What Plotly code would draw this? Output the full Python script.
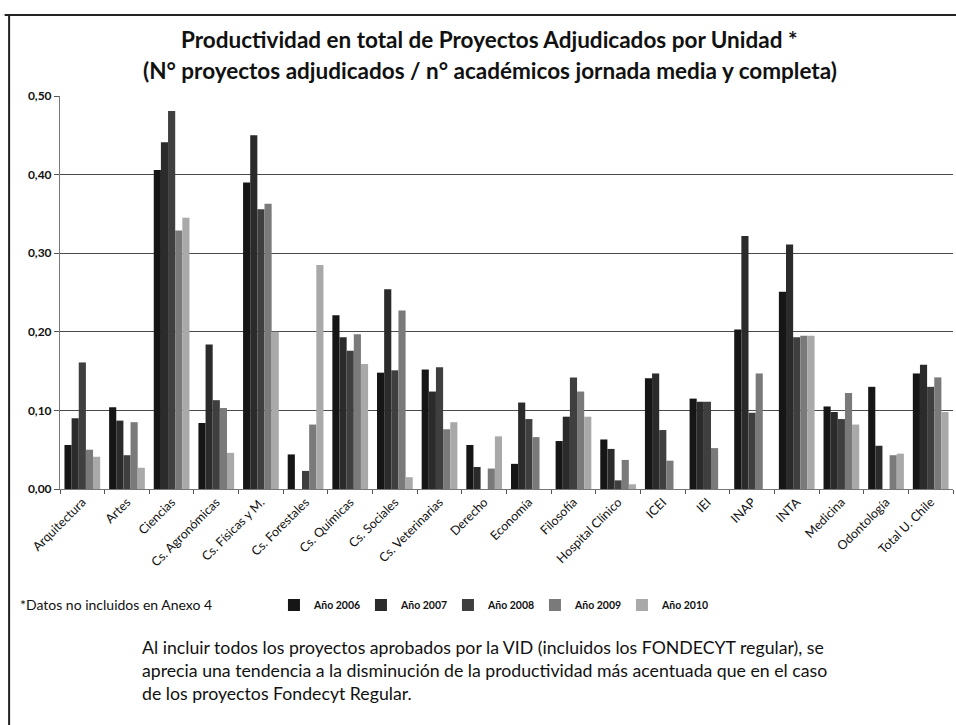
import plotly.graph_objects as go

# Units (categories) on the x axis
unidades = [
    "Arquitectura", "Artes", "Ciencias", "Cs. Agronómicas", "Cs. Físicas y M.",
    "Cs. Forestales", "Cs. Químicas", "Cs. Sociales", "Cs. Veterinarias", "Derecho",
    "Economía", "Filosofía", "Hospital Clínico", "ICEI", "IEI", "INAP", "INTA",
    "Medicina", "Odontología", "Total U. Chile",
]

# Productivity per year (None = no data)
anio_2006 = [0.056, 0.104, 0.406, 0.084, 0.390, 0.044, 0.221, 0.148, 0.152, 0.056,
             0.032, 0.061, 0.063, 0.141, 0.115, 0.203, 0.251, 0.105, 0.130, 0.147]
anio_2007 = [0.090, 0.087, 0.441, 0.184, 0.450, None, 0.193, 0.254, 0.124, 0.028,
             0.110, 0.092, 0.051, 0.147, 0.111, 0.322, 0.311, 0.098, 0.055, 0.158]
anio_2008 = [0.161, 0.043, 0.481, 0.113, 0.356, 0.023, 0.176, 0.151, 0.155, None,
             0.089, 0.142, 0.011, 0.075, 0.111, 0.097, 0.193, 0.089, None, 0.130]
anio_2009 = [0.050, 0.085, 0.329, 0.103, 0.363, 0.082, 0.197, 0.227, 0.076, 0.026,
             0.066, 0.124, 0.037, 0.036, 0.052, 0.147, 0.195, 0.122, 0.043, 0.142]
anio_2010 = [0.041, 0.027, 0.345, 0.046, 0.200, 0.285, 0.159, 0.015, 0.085, 0.067,
             None, 0.092, 0.006, None, None, None, 0.195, 0.082, 0.045, 0.098]

series = [
    ("Año 2006", anio_2006, "#161616"),
    ("Año 2007", anio_2007, "#2b2b2b"),
    ("Año 2008", anio_2008, "#3f3f3f"),
    ("Año 2009", anio_2009, "#7a7a7a"),
    ("Año 2010", anio_2010, "#a9a9a9"),
]

FONT = "Lato"

fig = go.Figure()
for nombre, valores, color in series:
    fig.add_trace(go.Bar(
        x=unidades, y=valores, name=nombre,
        marker=dict(color=color, line=dict(width=0)),
    ))

fig.update_layout(
    width=956, height=725,
    margin=dict(l=60, r=3, t=96, b=236),
    paper_bgcolor="white", plot_bgcolor="white",
    separators=",.",
    barmode="group", bargap=0.2, bargroupgap=0,
    font=dict(family=FONT, color="#111111"),
    showlegend=True,
    legend=dict(
        orientation="h", x=0.2396, xref="paper", y=-0.295, yref="paper",
        yanchor="middle", xanchor="left",
        font=dict(size=10.5, family=FONT, weight="bold"),
        itemwidth=30, itemsizing="constant", traceorder="normal",
        entrywidth=42, entrywidthmode="pixels",
        bgcolor="rgba(0,0,0,0)",
    ),
    xaxis=dict(
        type="category", tickangle=-45, tickson="boundaries",
        ticks="outside", ticklen=4, tickcolor="#555555",
        showline=True, linecolor="#777777", linewidth=1,
        tickfont=dict(size=12.5, family=FONT, color="#111111"),
        showgrid=False,
    ),
    yaxis=dict(
        range=[0, 0.5], dtick=0.1, tickformat=".2f",
        ticks="outside", ticklen=5, tickcolor="#555555",
        showline=True, linecolor="#777777", linewidth=1,
        showgrid=True, gridcolor="#4a4a4a", gridwidth=1,
        tickfont=dict(size=12, family=FONT, weight="bold", color="#111111"),
        zeroline=False,
    ),
)

# Title lines
fig.add_annotation(
    text="<b>Productividad en total de Proyectos Adjudicados por Unidad *</b>",
    xref="paper", yref="paper", x=0.4815, y=1.1425, xanchor="center", yanchor="middle",
    showarrow=False, font=dict(size=22.5, family=FONT, color="#111111"),
)
fig.add_annotation(
    text="<b>(N° proyectos adjudicados / n° académicos jornada media y completa)</b>",
    xref="paper", yref="paper", x=0.4815, y=1.066, xanchor="center", yanchor="middle",
    showarrow=False, font=dict(size=22.5, family=FONT, color="#111111"),
)

# Footnote
fig.add_annotation(
    text="*Datos no incluidos en Anexo 4",
    xref="paper", yref="paper", x=-0.047, y=-0.295, xanchor="left", yanchor="middle",
    showarrow=False, font=dict(size=14, family=FONT, color="#111111"),
)

# Commentary paragraph
fig.add_annotation(
    text=("Al incluir todos los proyectos aprobados por la VID (incluidos los FONDECYT regular), se<br>"
          "aprecia una tendencia a la disminución de la productividad más acentuada que en el caso<br>"
          "de los proyectos Fondecyt Regular."),
    xref="paper", yref="paper", x=0.0896, y=-0.4606, xanchor="left", yanchor="middle",
    align="left", showarrow=False,
    font=dict(size=17.7, family=FONT, color="#111111"),
)

# Page frame: top and left border
fig.add_shape(type="line", xref="paper", yref="paper",
              x0=-0.062, x1=1.01, y0=1.206, y1=1.206,
              line=dict(color="#222222", width=2))
fig.add_shape(type="line", xref="paper", yref="paper",
              x0=-0.057, x1=-0.057, y0=1.206, y1=-0.62,
              line=dict(color="#222222", width=2))

fig.write_html("out.html")
